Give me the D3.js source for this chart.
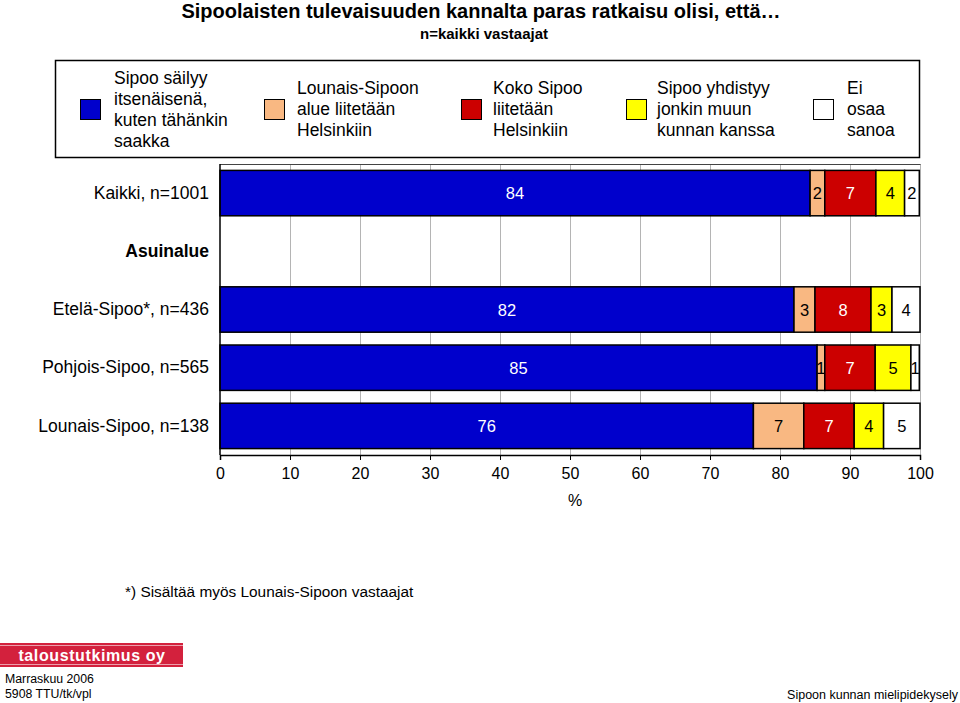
<!DOCTYPE html>
<html><head><meta charset="utf-8">
<script src="https://cdn.jsdelivr.net/npm/d3@7"></script>
<style>
body{margin:0;background:#fff;}
svg{display:block;font-family:"Liberation Sans",Arial,sans-serif;}
</style></head>
<body>
<svg id="c" width="960" height="703"></svg>
<script>
const categories = ["Kaikki, n=1001", "Asuinalue", "Etelä-Sipoo*, n=436", "Pohjois-Sipoo, n=565", "Lounais-Sipoo, n=138"];
const seriesNames = ["Sipoo säilyy itsenäisenä, kuten tähänkin saakka", "Lounais-Sipoon alue liitetään Helsinkiin", "Koko Sipoo liitetään Helsinkiin", "Sipoo yhdistyy jonkin muun kunnan kanssa", "Ei osaa sanoa"];
const legendLines = [["Sipoo säilyy","itsenäisenä,","kuten tähänkin","saakka"],["Lounais-Sipoon","alue liitetään","Helsinkiin"],["Koko Sipoo","liitetään","Helsinkiin"],["Sipoo yhdistyy","jonkin muun","kunnan kanssa"],["Ei","osaa","sanoa"]];
const itsenainen = [84.3, null, 82.0, 85.3, 76.2];
const lounaisLiitetaan = [2.1, null, 3.0, 1.1, 7.2];
const kokoLiitetaan = [7.3, null, 8.0, 7.2, 7.2];
const yhdistyy = [4.1, null, 3.0, 5.1, 4.2];
const eiOsaa = [2.1, null, 4.0, 1.2, 5.2];
const labels1 = [84, null, 82, 85, 76];
const labels2 = [2, null, 3, 1, 7];
const labels3 = [7, null, 8, 7, 7];
const labels4 = [4, null, 3, 5, 4];
const labels5 = [2, null, 4, 1, 5];
const xTicks = [0,10,20,30,40,50,60,70,80,90,100];
const colors = ["#0000cc", "#f9b882", "#cc0000", "#ffff00", "#ffffff"];
const textColors = ["#fff", "#000", "#fff", "#000", "#000"];

const svg = d3.select("#c");
const series = [itsenainen, lounaisLiitetaan, kokoLiitetaan, yhdistyy, eiOsaa];
const labs = [labels1, labels2, labels3, labels4, labels5];

// Title
svg.append("text").attr("x", 481).attr("y", 18).attr("text-anchor","middle")
  .style("font-weight","bold").style("font-size","20px").text("Sipoolaisten tulevaisuuden kannalta paras ratkaisu olisi, että…");
svg.append("text").attr("x", 484).attr("y", 39).attr("text-anchor","middle")
  .style("font-weight","bold").style("font-size","15px").text("n=kaikki vastaajat");

// Legend
svg.append("rect").attr("x",55.5).attr("y",60.5).attr("width",864).attr("height",97)
  .attr("fill","#fff").attr("stroke","#000").attr("stroke-width",1.5);
const legX = [{sx:80, tx:114},{sx:264, tx:297},{sx:461, tx:493},{sx:626, tx:657},{sx:813, tx:847}];
legendLines.forEach((lines,i)=>{
  svg.append("rect").attr("x",legX[i].sx+0.5).attr("y",99.5).attr("width",20).attr("height",20)
    .attr("fill",colors[i]).attr("stroke","#000").attr("stroke-width",1);
  const lh = 21;
  const y0 = 109 - (lines.length-1)*lh/2;
  const t = svg.append("text").style("font-size","17.5px").attr("fill","#000");
  lines.forEach((l,j)=>{
    t.append("tspan").attr("x",legX[i].tx).attr("y", y0 + j*lh + 6).text(l);
  });
});

// Plot
const x = d3.scaleLinear().domain([0,100]).range([220,920]);
const y = d3.scaleBand().domain(categories).range([164,455]).paddingInner(0.22).paddingOuter(0.11);

// gridlines
svg.append("g").selectAll("line").data(xTicks.slice(1)).join("line")
  .attr("x1",d=>x(d)+0.5).attr("x2",d=>x(d)+0.5).attr("y1",164).attr("y2",455)
  .attr("stroke","#b4b4b4").attr("stroke-width",1);
svg.append("line").attr("x1",220).attr("x2",920.5).attr("y1",164.5).attr("y2",164.5).attr("stroke","#444").attr("stroke-width",1.2);

// bars
categories.forEach((c,ci)=>{
  let cum = 0;
  series.forEach((s,si)=>{
    const v = s[ci];
    if (v == null) return;
    const x0 = x(cum), x1 = x(cum+v);
    svg.append("rect").attr("x",x0).attr("y",y(c)).attr("width",x1-x0).attr("height",y.bandwidth())
      .attr("fill",colors[si]).attr("stroke","#000").attr("stroke-width",1.5);
    svg.append("text").attr("x",(x0+x1)/2).attr("y",y(c)+y.bandwidth()/2+6)
      .attr("text-anchor","middle").style("font-size","16.5px").attr("fill",textColors[si])
      .text(labs[si][ci]);
    cum += v;
  });
});

// axes
const xAxis = d3.axisBottom(x).tickValues(xTicks).tickSize(5).tickPadding(8);
const gx = svg.append("g").attr("transform","translate(0,455)").call(xAxis);
gx.select(".domain").attr("stroke","#000").attr("stroke-width",1.5);
gx.selectAll(".tick line").attr("stroke","#000");
gx.selectAll(".tick text").style("font-size","16px").style("font-family","'Liberation Sans',Arial,sans-serif").attr("fill","#000");
svg.append("line").attr("x1",220).attr("x2",220).attr("y1",164).attr("y2",455).attr("stroke","#000").attr("stroke-width",1.5);

const yAxis = d3.axisLeft(y).tickSize(0).tickPadding(11);
const gy = svg.append("g").attr("transform","translate(220,0)").call(yAxis);
gy.select(".domain").remove();
gy.selectAll(".tick text").style("font-size","17.5px").style("font-family","'Liberation Sans',Arial,sans-serif").attr("fill","#000")
  .style("font-weight",d=>d==="Asuinalue"?"bold":"normal");

svg.append("text").attr("x",575).attr("y",506).attr("text-anchor","middle").style("font-size","16px").text("%");

// footnote
svg.append("text").attr("x",125).attr("y",597).style("font-size","15.4px").text("*) Sisältää myös Lounais-Sipoon vastaajat");

// logo
svg.append("rect").attr("x",0).attr("y",643).attr("width",183).attr("height",24).attr("fill","#d3213d");
svg.append("line").attr("x1",0).attr("x2",183).attr("y1",645.5).attr("y2",645.5).attr("stroke","#f3c0c8").attr("stroke-width",0.8);
svg.append("line").attr("x1",0).attr("x2",183).attr("y1",664.5).attr("y2",664.5).attr("stroke","#f3c0c8").attr("stroke-width",0.8);
svg.append("text").attr("x",92).attr("y",661).attr("text-anchor","middle").attr("fill","#fff")
  .style("font-weight","bold").style("font-size","16px").style("letter-spacing","0.6px").text("taloustutkimus oy");

svg.append("text").attr("x",5).attr("y",683).style("font-size","12.3px").text("Marraskuu 2006");
svg.append("text").attr("x",5).attr("y",698).style("font-size","12.3px").text("5908 TTU/tk/vpl");
svg.append("text").attr("x",958).attr("y",699).attr("text-anchor","end").style("font-size","12.5px").text("Sipoon kunnan mielipidekysely");
</script>
</body></html>
